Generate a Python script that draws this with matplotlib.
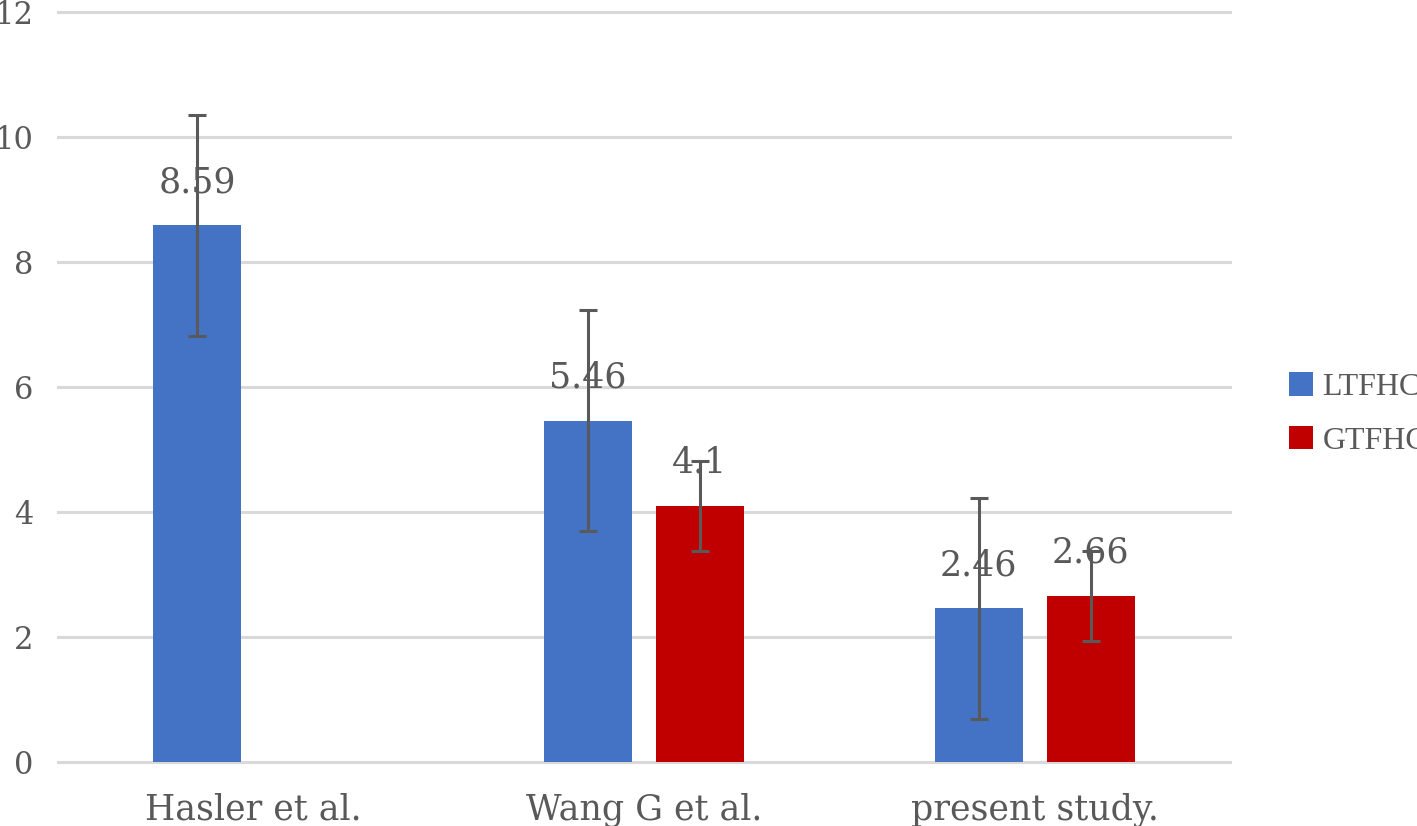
import numpy as np
import matplotlib
matplotlib.use("Agg")
import matplotlib.pyplot as plt

categories = ["Hasler et al.", "Wang G et al.", "present study."]
series_names = ["LTFHC", "GTFHC"]
ltfhc = [8.59, 5.46, 2.46]
gtfhc = [np.nan, 4.1, 2.66]
ltfhc_err = [1.77, 1.77, 1.77]
gtfhc_err = [np.nan, 0.72, 0.72]
ltfhc_labels = ["8.59", "5.46", "2.46"]
gtfhc_labels = ["", "4.1", "2.66"]
yticks = [0, 2, 4, 6, 8, 10, 12]

colors = ["#4472C4", "#C00000"]
text_color = "#595959"
grid_color = "#D9D9D9"
err_color = "#595959"

plt.rcParams['font.family'] = ['DejaVu Serif']

W, H = 1417, 826
fig = plt.figure(figsize=(W / 100, H / 100), dpi=100)
ax = fig.add_axes([58 / W, (H - 762) / H, (1230 - 58) / W, (762 - 12.3) / H])

x = np.arange(len(categories))
width = 0.225
offset = 0.1433

series = [(ltfhc, ltfhc_err, ltfhc_labels), (gtfhc, gtfhc_err, gtfhc_labels)]
handles = []
for i, (vals, errs, labs) in enumerate(series):
    vals = np.array(vals, dtype=float)
    errs = np.array(errs, dtype=float)
    pos = x + (-offset if i == 0 else offset)
    m = ~np.isnan(vals)
    b = ax.bar(pos[m], vals[m], width=width, color=colors[i], zorder=2,
               label=series_names[i])
    handles.append(b)
    ax.errorbar(pos[m], vals[m], yerr=errs[m], fmt='none', ecolor=err_color,
                elinewidth=2.2, capsize=6.2, capthick=2.2, zorder=4)
    for p, v, lab in zip(pos[m], vals[m], np.array(labs)[m]):
        ax.annotate(lab, (p, v), xytext=(0, 33), textcoords='offset pixels',
                    ha='center', va='baseline', fontsize=25, color=text_color,
                    zorder=3)

ax.set_xlim(-0.5, len(categories) - 0.5)
ax.set_ylim(0, 12)
ax.set_yticks(yticks)
ax.set_yticklabels([str(t) for t in yticks])
ax.set_xticks(x)
ax.set_xticklabels(categories)
ax.tick_params(axis='y', length=0, pad=18, labelsize=22, labelcolor=text_color)
ax.tick_params(axis='x', length=0, pad=22, labelsize=25, labelcolor=text_color)
ax.yaxis.grid(True, color=grid_color, linewidth=2.2, zorder=0)
ax.set_axisbelow(True)
for gl in ax.get_ygridlines():
    gl.set_clip_on(False)
for s in ax.spines.values():
    s.set_visible(False)

fig.legend(handles=handles, labels=series_names, loc='center left',
           bbox_to_anchor=(1289 / W, (H - 414) / H), frameon=False,
           prop={'family': 'Liberation Serif', 'size': 23},
           handlelength=0.75, handleheight=0.75,
           handletextpad=0.3, labelspacing=0.75, borderpad=0,
           borderaxespad=0, labelcolor=text_color)

fig.savefig("out.png", dpi=100)
